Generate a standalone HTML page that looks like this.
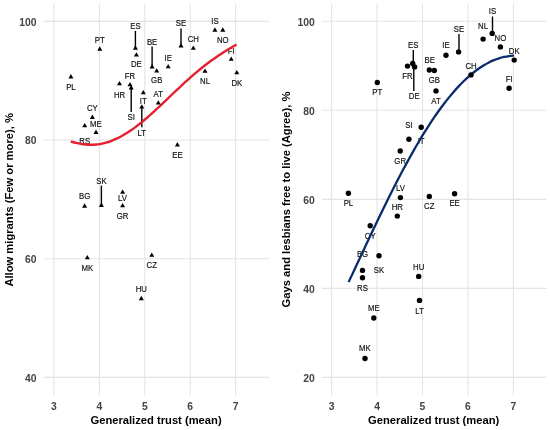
<!DOCTYPE html>
<html><head><meta charset="utf-8"><style>
html,body{margin:0;padding:0;background:#fff;width:550px;height:430px;overflow:hidden}
svg{display:block}
text{font-family:"Liberation Sans", sans-serif}
svg{will-change:transform}
.tk{font-size:10.35px;font-weight:bold;fill:#444}
.lb{font-size:7.8px;fill:#111;stroke:#111;stroke-width:0.15px}
.ti{font-size:11.2px;font-weight:bold;fill:#000}
</style></head><body>
<svg width="550" height="430" viewBox="0 0 550 430">
<rect width="550" height="430" fill="#fff"/>
<line x1="54.00" y1="3.5" x2="54.00" y2="395.2" stroke="#e4e4e4" stroke-width="1.1"/>
<line x1="99.40" y1="3.5" x2="99.40" y2="395.2" stroke="#e4e4e4" stroke-width="1.1"/>
<line x1="144.80" y1="3.5" x2="144.80" y2="395.2" stroke="#e4e4e4" stroke-width="1.1"/>
<line x1="190.20" y1="3.5" x2="190.20" y2="395.2" stroke="#e4e4e4" stroke-width="1.1"/>
<line x1="235.60" y1="3.5" x2="235.60" y2="395.2" stroke="#e4e4e4" stroke-width="1.1"/>
<line x1="43.7" y1="377.38" x2="269.0" y2="377.38" stroke="#e4e4e4" stroke-width="1.1"/>
<line x1="43.7" y1="258.72" x2="269.0" y2="258.72" stroke="#e4e4e4" stroke-width="1.1"/>
<line x1="43.7" y1="140.06" x2="269.0" y2="140.06" stroke="#e4e4e4" stroke-width="1.1"/>
<line x1="43.7" y1="21.40" x2="269.0" y2="21.40" stroke="#e4e4e4" stroke-width="1.1"/>
<line x1="331.60" y1="3.5" x2="331.60" y2="395.2" stroke="#e4e4e4" stroke-width="1.1"/>
<line x1="377.05" y1="3.5" x2="377.05" y2="395.2" stroke="#e4e4e4" stroke-width="1.1"/>
<line x1="422.50" y1="3.5" x2="422.50" y2="395.2" stroke="#e4e4e4" stroke-width="1.1"/>
<line x1="467.95" y1="3.5" x2="467.95" y2="395.2" stroke="#e4e4e4" stroke-width="1.1"/>
<line x1="513.40" y1="3.5" x2="513.40" y2="395.2" stroke="#e4e4e4" stroke-width="1.1"/>
<line x1="321.8" y1="377.38" x2="546.5" y2="377.38" stroke="#e4e4e4" stroke-width="1.1"/>
<line x1="321.8" y1="288.36" x2="546.5" y2="288.36" stroke="#e4e4e4" stroke-width="1.1"/>
<line x1="321.8" y1="199.34" x2="546.5" y2="199.34" stroke="#e4e4e4" stroke-width="1.1"/>
<line x1="321.8" y1="110.32" x2="546.5" y2="110.32" stroke="#e4e4e4" stroke-width="1.1"/>
<line x1="321.8" y1="21.30" x2="546.5" y2="21.30" stroke="#e4e4e4" stroke-width="1.1"/>
<g class="txt">
<text x="54.00" y="409.6" class="tk" text-anchor="middle">3</text>
<text x="99.40" y="409.6" class="tk" text-anchor="middle">4</text>
<text x="144.80" y="409.6" class="tk" text-anchor="middle">5</text>
<text x="190.20" y="409.6" class="tk" text-anchor="middle">6</text>
<text x="235.60" y="409.6" class="tk" text-anchor="middle">7</text>
<text x="36.6" y="381.78" class="tk" text-anchor="end">40</text>
<text x="36.6" y="263.12" class="tk" text-anchor="end">60</text>
<text x="36.6" y="144.46" class="tk" text-anchor="end">80</text>
<text x="36.6" y="25.80" class="tk" text-anchor="end">100</text>
<text x="331.60" y="409.6" class="tk" text-anchor="middle">3</text>
<text x="377.05" y="409.6" class="tk" text-anchor="middle">4</text>
<text x="422.50" y="409.6" class="tk" text-anchor="middle">5</text>
<text x="467.95" y="409.6" class="tk" text-anchor="middle">6</text>
<text x="513.40" y="409.6" class="tk" text-anchor="middle">7</text>
<text x="314.8" y="381.78" class="tk" text-anchor="end">20</text>
<text x="314.8" y="292.76" class="tk" text-anchor="end">40</text>
<text x="314.8" y="203.74" class="tk" text-anchor="end">60</text>
<text x="314.8" y="114.72" class="tk" text-anchor="end">80</text>
<text x="314.8" y="25.70" class="tk" text-anchor="end">100</text>
<text x="156.05" y="423.5" class="ti" text-anchor="middle">Generalized trust (mean)</text>
<text x="433.65" y="423.5" class="ti" text-anchor="middle">Generalized trust (mean)</text>
<text transform="translate(13.1 199.85) rotate(-90)" class="ti" text-anchor="middle">Allow migrants (Few or more), %</text>
<text transform="translate(290.3 199.5) rotate(-90)" class="ti" text-anchor="middle">Gays and lesbians free to live (Agree), %</text>
<text transform="translate(99.80 42.85) scale(1 1.13)" class="lb" text-anchor="middle">PT</text>
<text transform="translate(70.90 89.95) scale(1 1.13)" class="lb" text-anchor="middle">PL</text>
<text transform="translate(135.40 29.05) scale(1 1.13)" class="lb" text-anchor="middle">ES</text>
<text transform="translate(136.40 66.95) scale(1 1.13)" class="lb" text-anchor="middle">DE</text>
<text transform="translate(152.10 44.95) scale(1 1.13)" class="lb" text-anchor="middle">BE</text>
<text transform="translate(156.70 82.95) scale(1 1.13)" class="lb" text-anchor="middle">GB</text>
<text transform="translate(181.00 26.35) scale(1 1.13)" class="lb" text-anchor="middle">SE</text>
<text transform="translate(193.30 41.85) scale(1 1.13)" class="lb" text-anchor="middle">CH</text>
<text transform="translate(214.90 23.65) scale(1 1.13)" class="lb" text-anchor="middle">IS</text>
<text transform="translate(222.80 43.05) scale(1 1.13)" class="lb" text-anchor="middle">NO</text>
<text transform="translate(231.20 53.55) scale(1 1.13)" class="lb" text-anchor="middle">FI</text>
<text transform="translate(236.80 85.75) scale(1 1.13)" class="lb" text-anchor="middle">DK</text>
<text transform="translate(205.00 84.35) scale(1 1.13)" class="lb" text-anchor="middle">NL</text>
<text transform="translate(168.20 60.65) scale(1 1.13)" class="lb" text-anchor="middle">IE</text>
<text transform="translate(119.50 97.95) scale(1 1.13)" class="lb" text-anchor="middle">HR</text>
<text transform="translate(130.00 79.25) scale(1 1.13)" class="lb" text-anchor="middle">FR</text>
<text transform="translate(131.20 120.45) scale(1 1.13)" class="lb" text-anchor="middle">SI</text>
<text transform="translate(143.30 104.35) scale(1 1.13)" class="lb" text-anchor="middle">IT</text>
<text transform="translate(141.80 135.75) scale(1 1.13)" class="lb" text-anchor="middle">LT</text>
<text transform="translate(158.20 96.65) scale(1 1.13)" class="lb" text-anchor="middle">AT</text>
<text transform="translate(177.40 158.35) scale(1 1.13)" class="lb" text-anchor="middle">EE</text>
<text transform="translate(92.40 111.15) scale(1 1.13)" class="lb" text-anchor="middle">CY</text>
<text transform="translate(95.80 126.85) scale(1 1.13)" class="lb" text-anchor="middle">ME</text>
<text transform="translate(84.70 143.65) scale(1 1.13)" class="lb" text-anchor="middle">RS</text>
<text transform="translate(101.40 183.75) scale(1 1.13)" class="lb" text-anchor="middle">SK</text>
<text transform="translate(84.60 199.35) scale(1 1.13)" class="lb" text-anchor="middle">BG</text>
<text transform="translate(122.60 200.95) scale(1 1.13)" class="lb" text-anchor="middle">LV</text>
<text transform="translate(122.60 218.55) scale(1 1.13)" class="lb" text-anchor="middle">GR</text>
<text transform="translate(87.30 271.15) scale(1 1.13)" class="lb" text-anchor="middle">MK</text>
<text transform="translate(151.80 268.45) scale(1 1.13)" class="lb" text-anchor="middle">CZ</text>
<text transform="translate(141.30 292.05) scale(1 1.13)" class="lb" text-anchor="middle">HU</text>
<text transform="translate(492.50 14.15) scale(1 1.13)" class="lb" text-anchor="middle">IS</text>
<text transform="translate(483.10 28.85) scale(1 1.13)" class="lb" text-anchor="middle">NL</text>
<text transform="translate(500.40 40.85) scale(1 1.13)" class="lb" text-anchor="middle">NO</text>
<text transform="translate(514.20 53.55) scale(1 1.13)" class="lb" text-anchor="middle">DK</text>
<text transform="translate(509.10 81.75) scale(1 1.13)" class="lb" text-anchor="middle">FI</text>
<text transform="translate(471.00 68.95) scale(1 1.13)" class="lb" text-anchor="middle">CH</text>
<text transform="translate(459.00 32.25) scale(1 1.13)" class="lb" text-anchor="middle">SE</text>
<text transform="translate(446.00 47.95) scale(1 1.13)" class="lb" text-anchor="middle">IE</text>
<text transform="translate(413.30 47.85) scale(1 1.13)" class="lb" text-anchor="middle">ES</text>
<text transform="translate(407.50 79.35) scale(1 1.13)" class="lb" text-anchor="middle">FR</text>
<text transform="translate(414.20 99.05) scale(1 1.13)" class="lb" text-anchor="middle">DE</text>
<text transform="translate(429.80 63.45) scale(1 1.13)" class="lb" text-anchor="middle">BE</text>
<text transform="translate(434.30 83.15) scale(1 1.13)" class="lb" text-anchor="middle">GB</text>
<text transform="translate(436.00 104.05) scale(1 1.13)" class="lb" text-anchor="middle">AT</text>
<text transform="translate(377.30 95.15) scale(1 1.13)" class="lb" text-anchor="middle">PT</text>
<text transform="translate(408.90 128.05) scale(1 1.13)" class="lb" text-anchor="middle">SI</text>
<text transform="translate(421.10 143.85) scale(1 1.13)" class="lb" text-anchor="middle">IT</text>
<text transform="translate(400.20 164.25) scale(1 1.13)" class="lb" text-anchor="middle">GR</text>
<text transform="translate(348.40 206.25) scale(1 1.13)" class="lb" text-anchor="middle">PL</text>
<text transform="translate(400.40 191.35) scale(1 1.13)" class="lb" text-anchor="middle">LV</text>
<text transform="translate(397.30 210.05) scale(1 1.13)" class="lb" text-anchor="middle">HR</text>
<text transform="translate(429.30 209.25) scale(1 1.13)" class="lb" text-anchor="middle">CZ</text>
<text transform="translate(454.60 206.25) scale(1 1.13)" class="lb" text-anchor="middle">EE</text>
<text transform="translate(370.20 239.45) scale(1 1.13)" class="lb" text-anchor="middle">CY</text>
<text transform="translate(362.50 257.35) scale(1 1.13)" class="lb" text-anchor="middle">BG</text>
<text transform="translate(379.00 273.15) scale(1 1.13)" class="lb" text-anchor="middle">SK</text>
<text transform="translate(362.50 290.65) scale(1 1.13)" class="lb" text-anchor="middle">RS</text>
<text transform="translate(418.70 270.15) scale(1 1.13)" class="lb" text-anchor="middle">HU</text>
<text transform="translate(419.50 313.95) scale(1 1.13)" class="lb" text-anchor="middle">LT</text>
<text transform="translate(373.80 310.95) scale(1 1.13)" class="lb" text-anchor="middle">ME</text>
<text transform="translate(364.80 351.45) scale(1 1.13)" class="lb" text-anchor="middle">MK</text>
</g>
<line x1="135.40" y1="30.90" x2="135.40" y2="47.70" stroke="#000" stroke-width="1.4"/>
<line x1="152.10" y1="46.60" x2="152.10" y2="67.00" stroke="#000" stroke-width="1.4"/>
<line x1="181.00" y1="28.40" x2="181.00" y2="46.00" stroke="#000" stroke-width="1.4"/>
<line x1="131.20" y1="111.90" x2="131.20" y2="87.00" stroke="#000" stroke-width="1.4"/>
<line x1="141.80" y1="127.30" x2="141.80" y2="106.00" stroke="#000" stroke-width="1.4"/>
<line x1="101.40" y1="185.60" x2="101.40" y2="205.00" stroke="#000" stroke-width="1.4"/>
<line x1="492.50" y1="16.50" x2="492.50" y2="33.30" stroke="#000" stroke-width="1.4"/>
<line x1="459.00" y1="34.10" x2="459.00" y2="51.90" stroke="#000" stroke-width="1.4"/>
<line x1="413.30" y1="50.10" x2="413.30" y2="63.50" stroke="#000" stroke-width="1.4"/>
<line x1="413.80" y1="91.10" x2="413.80" y2="66.90" stroke="#000" stroke-width="1.4"/>
<path d="M70.80 141.47C71.64 141.70 74.15 142.44 75.82 142.84C77.49 143.24 79.17 143.60 80.84 143.88C82.52 144.16 84.19 144.38 85.86 144.52C87.54 144.67 89.21 144.74 90.88 144.74C92.56 144.74 94.23 144.67 95.91 144.52C97.58 144.36 99.25 144.13 100.93 143.82C102.60 143.52 104.27 143.13 105.95 142.66C107.62 142.20 109.30 141.66 110.97 141.04C112.64 140.42 114.32 139.73 115.99 138.96C117.66 138.20 119.34 137.36 121.01 136.45C122.69 135.55 124.36 134.57 126.03 133.53C127.71 132.50 129.38 131.39 131.05 130.24C132.73 129.08 134.40 127.86 136.08 126.60C137.75 125.34 139.42 124.02 141.10 122.66C142.77 121.31 144.44 119.90 146.12 118.47C147.79 117.04 149.47 115.56 151.14 114.06C152.81 112.56 154.49 111.03 156.16 109.49C157.83 107.94 159.51 106.37 161.18 104.80C162.86 103.22 164.53 101.63 166.20 100.03C167.88 98.44 169.55 96.84 171.22 95.25C172.90 93.65 174.57 92.06 176.25 90.48C177.92 88.90 179.59 87.32 181.27 85.77C182.94 84.22 184.61 82.68 186.29 81.16C187.96 79.65 189.64 78.15 191.31 76.68C192.98 75.22 194.66 73.78 196.33 72.37C198.00 70.96 199.68 69.58 201.35 68.23C203.03 66.89 204.70 65.57 206.37 64.30C208.05 63.02 209.72 61.77 211.39 60.57C213.07 59.36 214.74 58.18 216.42 57.04C218.09 55.90 219.76 54.79 221.44 53.71C223.11 52.63 224.78 51.58 226.46 50.55C228.13 49.52 229.81 48.52 231.48 47.54C233.15 46.55 235.66 45.11 236.50 44.62" fill="none" stroke="#e4202e" stroke-width="2.4" stroke-linecap="butt"/>
<path d="M348.60 282.13C349.44 280.35 351.94 275.00 353.61 271.42C355.28 267.85 356.95 264.27 358.62 260.70C360.29 257.12 361.97 253.55 363.64 249.98C365.31 246.42 366.98 242.86 368.65 239.32C370.32 235.78 371.99 232.24 373.66 228.73C375.33 225.22 377.00 221.73 378.67 218.26C380.34 214.79 382.01 211.34 383.68 207.92C385.36 204.51 387.03 201.11 388.70 197.76C390.37 194.40 392.04 191.08 393.71 187.79C395.38 184.50 397.05 181.25 398.72 178.04C400.39 174.84 402.06 171.67 403.73 168.54C405.40 165.42 407.07 162.34 408.75 159.32C410.42 156.29 412.09 153.31 413.76 150.38C415.43 147.45 417.10 144.58 418.77 141.76C420.44 138.94 422.11 136.17 423.78 133.47C425.45 130.76 427.12 128.12 428.79 125.53C430.46 122.95 432.14 120.42 433.81 117.96C435.48 115.50 437.15 113.10 438.82 110.77C440.49 108.44 442.16 106.18 443.83 103.98C445.50 101.79 447.17 99.66 448.84 97.60C450.51 95.55 452.18 93.56 453.85 91.65C455.53 89.73 457.20 87.89 458.87 86.12C460.54 84.36 462.21 82.66 463.88 81.04C465.55 79.42 467.22 77.88 468.89 76.41C470.56 74.94 472.23 73.55 473.90 72.23C475.57 70.92 477.24 69.68 478.92 68.52C480.59 67.36 482.26 66.27 483.93 65.27C485.60 64.26 487.27 63.34 488.94 62.49C490.61 61.64 492.28 60.87 493.95 60.18C495.62 59.48 497.29 58.87 498.96 58.33C500.63 57.80 502.31 57.34 503.98 56.96C505.65 56.58 507.32 56.27 508.99 56.05C510.66 55.82 513.16 55.67 514.00 55.60" fill="none" stroke="#0b2c6c" stroke-width="2.3" stroke-linecap="butt"/>
<path d="M99.80 46.32L102.30 50.65L97.30 50.65Z" fill="#000"/>
<path d="M70.90 74.12L73.40 78.45L68.40 78.45Z" fill="#000"/>
<path d="M135.40 45.32L137.90 49.65L132.90 49.65Z" fill="#000"/>
<path d="M136.40 52.22L138.90 56.55L133.90 56.55Z" fill="#000"/>
<path d="M152.10 64.12L154.60 68.45L149.60 68.45Z" fill="#000"/>
<path d="M156.70 68.22L159.20 72.55L154.20 72.55Z" fill="#000"/>
<path d="M181.00 43.12L183.50 47.45L178.50 47.45Z" fill="#000"/>
<path d="M193.30 45.52L195.80 49.85L190.80 49.85Z" fill="#000"/>
<path d="M214.90 27.32L217.40 31.65L212.40 31.65Z" fill="#000"/>
<path d="M222.80 27.32L225.30 31.65L220.30 31.65Z" fill="#000"/>
<path d="M231.20 56.42L233.70 60.75L228.70 60.75Z" fill="#000"/>
<path d="M236.80 70.02L239.30 74.35L234.30 74.35Z" fill="#000"/>
<path d="M205.00 68.52L207.50 72.85L202.50 72.85Z" fill="#000"/>
<path d="M168.20 63.92L170.70 68.25L165.70 68.25Z" fill="#000"/>
<path d="M119.50 81.02L122.00 85.35L117.00 85.35Z" fill="#000"/>
<path d="M130.00 82.02L132.50 86.35L127.50 86.35Z" fill="#000"/>
<path d="M131.20 85.12L133.70 89.45L128.70 89.45Z" fill="#000"/>
<path d="M143.30 90.02L145.80 94.35L140.80 94.35Z" fill="#000"/>
<path d="M141.80 104.22L144.30 108.55L139.30 108.55Z" fill="#000"/>
<path d="M158.30 100.22L160.80 104.55L155.80 104.55Z" fill="#000"/>
<path d="M177.40 142.12L179.90 146.45L174.90 146.45Z" fill="#000"/>
<path d="M92.40 114.62L94.90 118.95L89.90 118.95Z" fill="#000"/>
<path d="M96.00 129.62L98.50 133.95L93.50 133.95Z" fill="#000"/>
<path d="M84.70 122.92L87.20 127.25L82.20 127.25Z" fill="#000"/>
<path d="M101.40 202.62L103.90 206.95L98.90 206.95Z" fill="#000"/>
<path d="M84.60 203.32L87.10 207.65L82.10 207.65Z" fill="#000"/>
<path d="M122.60 189.42L125.10 193.75L120.10 193.75Z" fill="#000"/>
<path d="M122.60 203.02L125.10 207.35L120.10 207.35Z" fill="#000"/>
<path d="M87.30 254.92L89.80 259.25L84.80 259.25Z" fill="#000"/>
<path d="M151.80 252.52L154.30 256.85L149.30 256.85Z" fill="#000"/>
<path d="M141.30 295.82L143.80 300.15L138.80 300.15Z" fill="#000"/>
<circle cx="492.20" cy="33.40" r="2.7" fill="#000"/>
<circle cx="483.10" cy="39.10" r="2.7" fill="#000"/>
<circle cx="500.40" cy="46.90" r="2.7" fill="#000"/>
<circle cx="514.20" cy="60.10" r="2.7" fill="#000"/>
<circle cx="509.10" cy="88.20" r="2.7" fill="#000"/>
<circle cx="471.00" cy="74.90" r="2.7" fill="#000"/>
<circle cx="458.60" cy="51.90" r="2.7" fill="#000"/>
<circle cx="446.00" cy="55.30" r="2.7" fill="#000"/>
<circle cx="412.70" cy="63.50" r="2.7" fill="#000"/>
<circle cx="407.50" cy="66.10" r="2.7" fill="#000"/>
<circle cx="414.60" cy="66.90" r="2.7" fill="#000"/>
<circle cx="429.30" cy="70.00" r="2.7" fill="#000"/>
<circle cx="434.30" cy="70.50" r="2.7" fill="#000"/>
<circle cx="436.00" cy="90.90" r="2.7" fill="#000"/>
<circle cx="377.30" cy="82.50" r="2.7" fill="#000"/>
<circle cx="421.20" cy="127.30" r="2.7" fill="#000"/>
<circle cx="408.90" cy="139.30" r="2.7" fill="#000"/>
<circle cx="400.20" cy="151.00" r="2.7" fill="#000"/>
<circle cx="348.40" cy="193.30" r="2.7" fill="#000"/>
<circle cx="400.40" cy="197.60" r="2.7" fill="#000"/>
<circle cx="397.30" cy="216.10" r="2.7" fill="#000"/>
<circle cx="429.30" cy="196.40" r="2.7" fill="#000"/>
<circle cx="454.60" cy="193.80" r="2.7" fill="#000"/>
<circle cx="370.20" cy="225.80" r="2.7" fill="#000"/>
<circle cx="362.50" cy="270.40" r="2.7" fill="#000"/>
<circle cx="379.00" cy="255.70" r="2.7" fill="#000"/>
<circle cx="362.50" cy="277.70" r="2.7" fill="#000"/>
<circle cx="418.70" cy="276.40" r="2.7" fill="#000"/>
<circle cx="419.50" cy="300.40" r="2.7" fill="#000"/>
<circle cx="373.80" cy="318.00" r="2.7" fill="#000"/>
<circle cx="365.00" cy="358.50" r="2.7" fill="#000"/>
</svg>
</body></html>
